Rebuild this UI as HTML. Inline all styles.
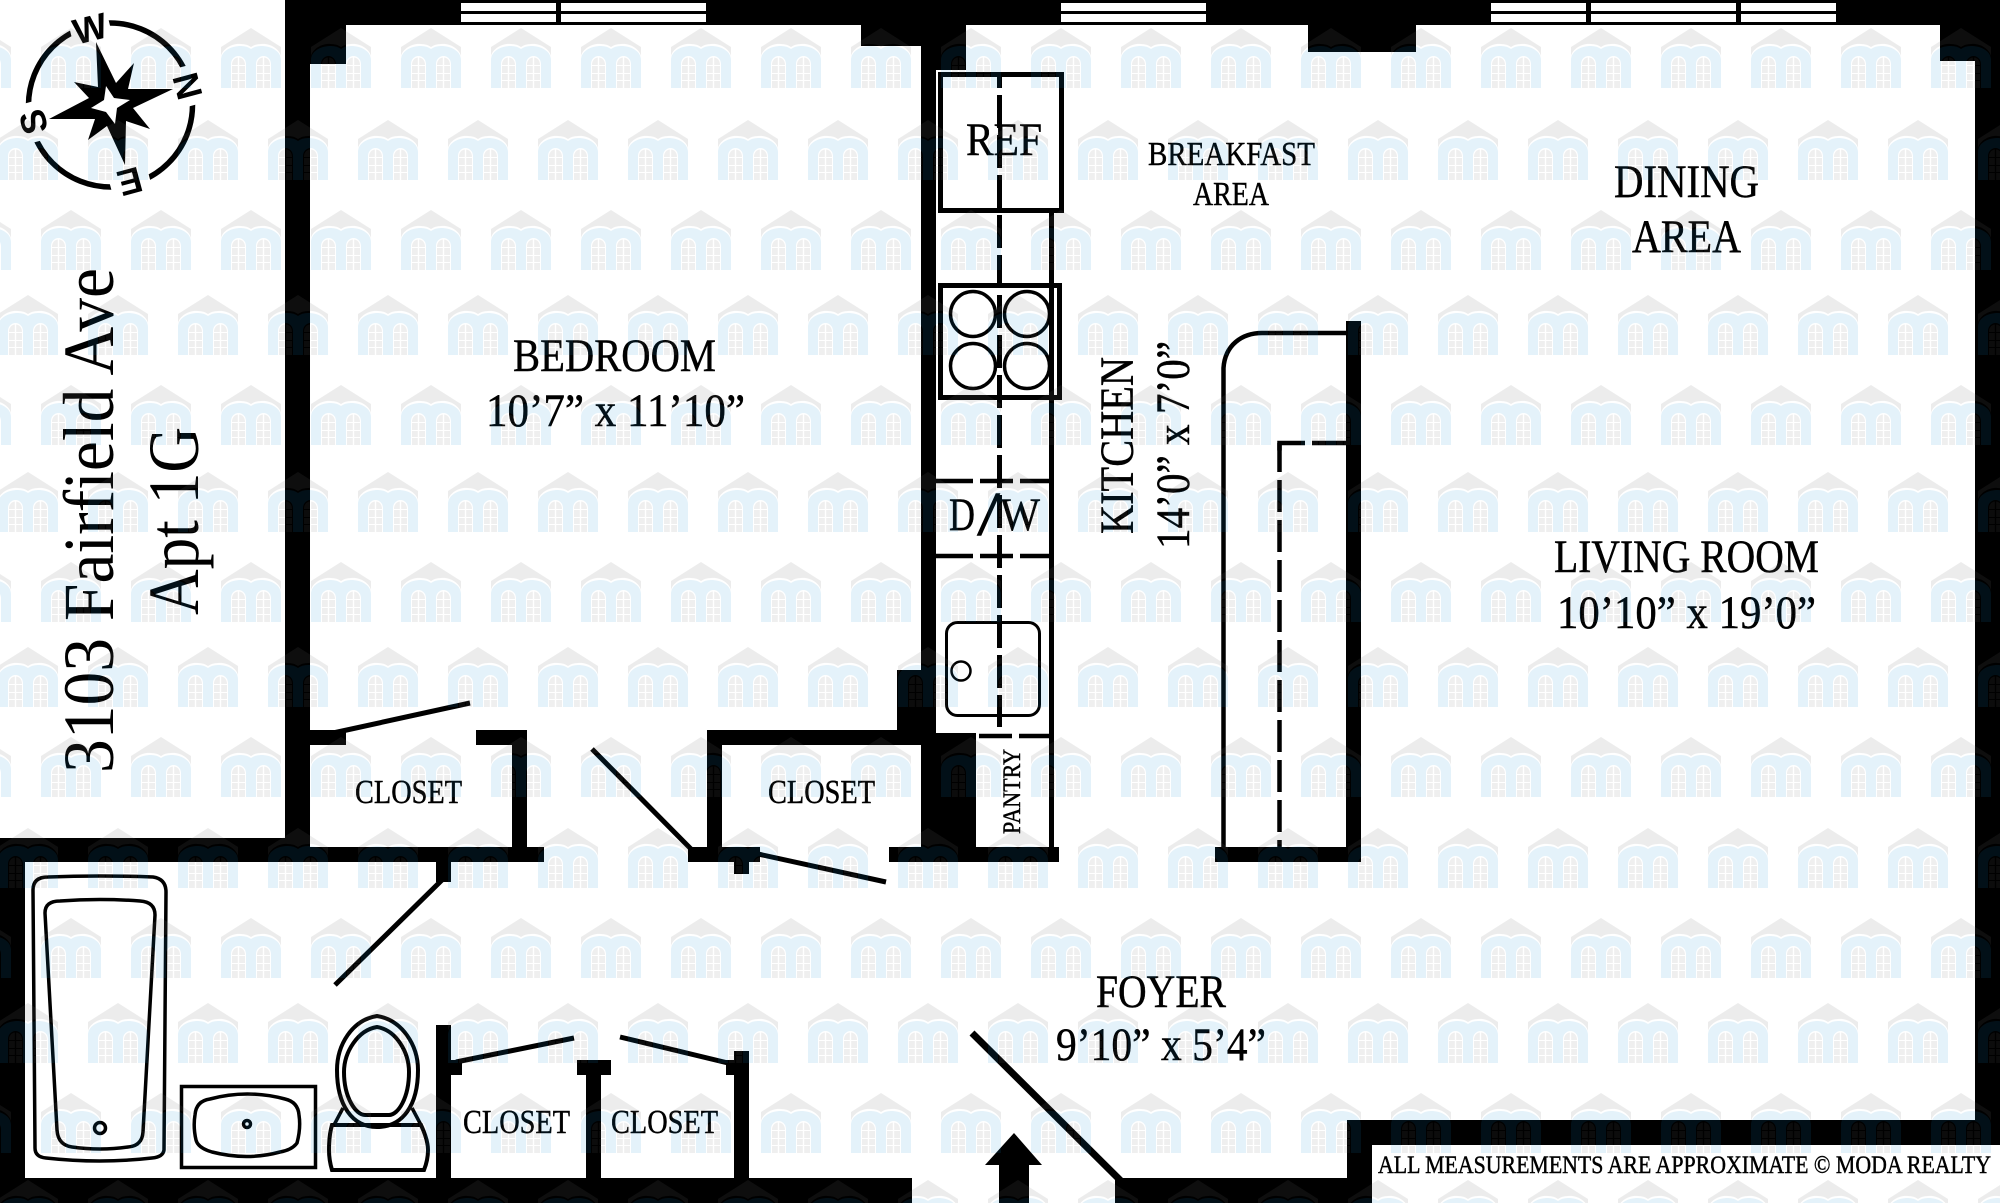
<!DOCTYPE html>
<html>
<head>
<meta charset="utf-8">
<title>3103 Fairfield Ave Apt 1G</title>
<style>
html,body{margin:0;padding:0;background:#fff;width:2000px;height:1203px;overflow:hidden}
svg{display:block}
text{font-family:"Liberation Serif",serif;fill:#000}
.h text{stroke:#000;stroke-width:.45px}
</style>
</head>
<body>
<svg width="2000" height="1203" viewBox="0 0 2000 1203" xmlns="http://www.w3.org/2000/svg">
<defs>
<pattern id="w" x="41" y="0" width="90" height="60" patternUnits="userSpaceOnUse">
  <path fill="rgba(107,107,107,.13)" d="M0 19L30 0L60 19V28C58 20 48 15 40 16Q34 16 30 19Q26 16 20 16C12 15 2 20 0 28Z"/>
  <path fill="rgba(18,140,210,.114)" fill-rule="evenodd" d="M0 60V32C0 23 10 18 20 18Q26 18 30 21Q34 18 40 18C50 18 60 23 60 32V60ZM10 60H25V36C25 31 21 28 17.500 28C14 28 10 31 10 36ZM35 60H50V36C50 31 46 28 42.500 28C39 28 35 31 35 36Z"/>
  <path fill="rgba(107,107,107,.11)" d="M11 37C11 33 13 30 16.800 29.500V37ZM18.200 29.500C22 30 24 33 24 37H18.200ZM11 38H16.800V45H11ZM18.200 38H24V45H18.200ZM11 46H16.800V52H11ZM18.200 46H24V52H18.200ZM11 53H16.800V60H11ZM18.200 53H24V60H18.200ZM36 37C36 33 38 30 41.800 29.500V37ZM43.200 29.500C47 30 49 33 49 37H43.200ZM36 38H41.800V45H36ZM43.200 38H49V45H43.200ZM36 46H41.800V52H36ZM43.200 46H49V52H43.200ZM36 53H41.800V60H36ZM43.200 53H49V60H43.200Z"/>
</pattern>
</defs>

<rect width="2000" height="1203" fill="#fff"/>

<!-- walls -->
<g fill="#000">
  <rect x="285" y="0" width="1715" height="25"/>
  <rect x="285" y="25" width="61" height="39"/>
  <rect x="861" y="25" width="60" height="21"/>
  <rect x="921" y="25" width="45" height="45"/>
  <rect x="1308" y="25" width="108" height="27"/>
  <rect x="1940" y="25" width="60" height="36"/>
  <rect x="1975" y="25" width="25" height="1120"/>
  <rect x="285" y="25" width="25" height="837"/>
  <rect x="310" y="730" width="36" height="15"/>
  <rect x="476" y="730" width="51" height="15"/>
  <rect x="512" y="730" width="15" height="120"/>
  <rect x="0" y="838" width="310" height="24"/>
  <rect x="285" y="847" width="259" height="15"/>
  <rect x="436" y="862" width="15" height="20"/>
  <rect x="0" y="838" width="25" height="365"/>
  <rect x="0" y="1178" width="912" height="25"/>
  <rect x="436" y="1025" width="15" height="153"/>
  <rect x="451" y="1060" width="11" height="15"/>
  <rect x="577" y="1060" width="34" height="15"/>
  <rect x="586" y="1075" width="15" height="103"/>
  <rect x="734" y="1051" width="15" height="127"/>
  <rect x="726" y="1060" width="8" height="15"/>
  <rect x="688" y="847" width="72" height="15"/>
  <rect x="734" y="862" width="15" height="12"/>
  <rect x="707" y="730" width="15" height="120"/>
  <rect x="707" y="730" width="190" height="15"/>
  <rect x="897" y="670" width="39" height="75"/>
  <rect x="921" y="25" width="15" height="837"/>
  <rect x="921" y="733" width="55" height="114"/>
  <rect x="889" y="847" width="170" height="15"/>
  <rect x="1049" y="212" width="5" height="635"/>
  <rect x="1346" y="321" width="15" height="541"/>
  <rect x="1215" y="847" width="146" height="15"/>
  <rect x="1347" y="1120" width="653" height="25"/>
  <rect x="1347" y="1120" width="25" height="83"/>
  <rect x="1115" y="1178" width="257" height="25"/>
</g>

<!-- windows -->
<g fill="#fff">
  <rect x="461" y="3" width="95" height="8"/><rect x="461" y="14" width="95" height="8"/>
  <rect x="561" y="3" width="145" height="8"/><rect x="561" y="14" width="145" height="8"/>
  <rect x="1061" y="3" width="145" height="8"/><rect x="1061" y="14" width="145" height="8"/>
  <rect x="1491" y="3" width="95" height="8"/><rect x="1491" y="14" width="95" height="8"/>
  <rect x="1591" y="3" width="145" height="8"/><rect x="1591" y="14" width="145" height="8"/>
  <rect x="1741" y="3" width="95" height="8"/><rect x="1741" y="14" width="95" height="8"/>
</g>

<!-- doors -->
<g stroke="#000" fill="none">
  <line x1="333" y1="733" x2="470" y2="703" stroke-width="5"/>
  <line x1="592" y1="749" x2="691" y2="849" stroke-width="5"/>
  <line x1="758" y1="854" x2="886" y2="882" stroke-width="5"/>
  <line x1="335" y1="985" x2="442" y2="880" stroke-width="5"/>
  <line x1="456" y1="1062" x2="574" y2="1038" stroke-width="5"/>
  <line x1="620" y1="1037" x2="728" y2="1063" stroke-width="5"/>
  <line x1="972" y1="1033" x2="1122" y2="1182" stroke-width="7"/>
</g>

<!-- entry arrow -->
<path d="M1014 1133L1042 1165H1029V1203H999V1165H985Z" fill="#000"/>

<!-- kitchen -->
<g fill="none" stroke="#000">
  <rect x="940.500" y="74.500" width="121" height="136" stroke-width="5"/>
  <rect x="940.500" y="285.500" width="119" height="112" stroke-width="5"/>
  <g stroke-width="3.500">
    <circle cx="973" cy="314" r="22.500"/><circle cx="1027" cy="314" r="22.500"/>
    <circle cx="973" cy="366" r="22.500"/><circle cx="1027" cy="366" r="22.500"/>
  </g>
  <line x1="999.500" y1="72" x2="999.500" y2="88" stroke-width="5"/>
  <line x1="999.500" y1="95" x2="999.500" y2="727" stroke-width="5" stroke-dasharray="33 7"/>
  <line x1="936" y1="481" x2="1049" y2="481" stroke-width="4.500" stroke-dasharray="37 7 33 7"/>
  <line x1="936" y1="556" x2="1049" y2="556" stroke-width="4.500" stroke-dasharray="37 7 33 7"/>
  <line x1="979" y1="736" x2="1049" y2="736" stroke-width="4.500" stroke-dasharray="33 7"/>
  <rect x="946.500" y="622.500" width="93" height="93" rx="11" stroke-width="3"/>
  <circle cx="961" cy="671" r="9.500" stroke-width="2.500"/>
  <path d="M1223.500 847V368C1225 345 1242 333 1262 333H1346" stroke-width="4.500"/>
  <path d="M1346 443H1279.500V472" stroke-width="4.500" stroke-dasharray="34 7 33 200"/>
  <line x1="1279.500" y1="443" x2="1279.500" y2="472" stroke-width="4.500"/>
  <line x1="1279.500" y1="480" x2="1279.500" y2="847" stroke-width="4.500" stroke-dasharray="32 8"/>
</g>

<!-- bath fixtures -->
<g fill="none" stroke="#000" stroke-width="3.500">
  <path d="M33 890Q33 877 48 877Q100 875 153 877Q166 879 166 892L164 1150Q163 1157 152 1158Q100 1164 46 1158Q35 1157 35 1148Z"/>
  <path d="M45 913Q45 901 60 901Q100 898 140 901Q155 902 155 915L143 1132Q142 1146 128 1147Q100 1151 72 1147Q58 1145 57 1130Z"/>
  <circle cx="100" cy="1128" r="5.500"/>
  <rect x="181.500" y="1086.500" width="134" height="81"/>
  <path d="M195 1115Q196 1101 210 1099Q247 1089 285 1099Q298 1102 299 1115Q301 1128 297 1143Q292 1150 280 1152Q247 1161 212 1152Q198 1148 196 1140Q193 1127 195 1115Z"/>
  <circle cx="247" cy="1124" r="3.500"/>
  <path d="M377 1016C352 1020 337 1045 337 1070C337 1105 352 1127 377 1127C403 1127 418 1105 418 1070C418 1045 402 1020 377 1016Z" stroke-width="4"/>
  <path d="M377 1027C358 1030 344 1052 344 1072C344 1098 356 1115 365 1115H389C398 1115 409 1098 409 1072C409 1052 396 1030 377 1027Z" stroke-width="4"/>
  <path d="M332 1125H421Q428 1140 428 1150Q428 1160 424 1170H332Q329 1160 329 1150Q329 1135 332 1125Z" stroke-width="4"/>
  <path d="M334 1125L343 1108M421 1125L412 1108"/>
</g>

<!-- compass -->
<g>
  <circle cx="110.500" cy="105" r="82" fill="none" stroke="#000" stroke-width="5.500"/>
  <g fill="#fff">
    <rect x="70" y="10" width="40" height="36" transform="rotate(-14 90 28)"/>
    <rect x="168" y="68" width="40" height="36" transform="rotate(75 188 86)"/>
    <rect x="110" y="164" width="40" height="36" transform="rotate(165 130 182)"/>
    <rect x="13" y="104" width="40" height="36" transform="rotate(-105 33 122)"/>
  </g>
  <path fill="#000" d="M96 42L116 83L134 63L128 89L173 89L133 108L150 129L126 121L125 165L107 126L88 140L95 119L49 119L89 98L74 82L98 87Z"/>
  <path fill="#fff" d="M106 86L114 98L130 100L117 108L115 124L106 112L91 108L104 100Z"/>
  <g font-weight="bold" font-size="36" text-anchor="middle">
    <text x="90" y="41" transform="rotate(-14 90 28)" style="font-family:'Liberation Sans',sans-serif">W</text>
    <text x="188" y="99" transform="rotate(75 188 86)" style="font-family:'Liberation Sans',sans-serif">N</text>
    <text x="130" y="195" transform="rotate(165 130 182)" style="font-family:'Liberation Sans',sans-serif">E</text>
    <text x="33" y="135" transform="rotate(-105 33 122)" style="font-family:'Liberation Sans',sans-serif">S</text>
  </g>
</g>

<!-- labels -->
<g class="h">
  <text x="513" y="371" font-size="47" textLength="203" lengthAdjust="spacingAndGlyphs">BEDROOM</text>
  <text x="486" y="426" font-size="47" textLength="259" lengthAdjust="spacingAndGlyphs">10’7” x 11’10”</text>
  <text x="966" y="155" font-size="47" textLength="76" lengthAdjust="spacingAndGlyphs">REF</text>
  <text x="1148" y="165" font-size="34" textLength="167" lengthAdjust="spacingAndGlyphs">BREAKFAST</text>
  <text x="1193" y="205" font-size="34" textLength="76" lengthAdjust="spacingAndGlyphs">AREA</text>
  <text x="1614" y="197" font-size="47" textLength="145" lengthAdjust="spacingAndGlyphs">DINING</text>
  <text x="1632" y="252" font-size="47" textLength="109" lengthAdjust="spacingAndGlyphs">AREA</text>
  <text x="1554" y="572" font-size="47" textLength="265" lengthAdjust="spacingAndGlyphs">LIVING ROOM</text>
  <text x="1557" y="628" font-size="47" textLength="259" lengthAdjust="spacingAndGlyphs">10’10” x 19’0”</text>
  <text x="1096" y="1007" font-size="47" textLength="130" lengthAdjust="spacingAndGlyphs">FOYER</text>
  <text x="1056" y="1060" font-size="47" textLength="210" lengthAdjust="spacingAndGlyphs">9’10” x 5’4”</text>
  <text x="949" y="530" font-size="47" textLength="26" lengthAdjust="spacingAndGlyphs">D</text>
  <text x="977" y="535" font-size="62" textLength="23" lengthAdjust="spacingAndGlyphs">/</text>
  <text x="1000" y="530" font-size="47" textLength="40" lengthAdjust="spacingAndGlyphs">W</text>
  <text x="355" y="803" font-size="34" textLength="107" lengthAdjust="spacingAndGlyphs">CLOSET</text>
  <text x="768" y="803" font-size="34" textLength="107" lengthAdjust="spacingAndGlyphs">CLOSET</text>
  <text x="463" y="1133" font-size="34" textLength="107" lengthAdjust="spacingAndGlyphs">CLOSET</text>
  <text x="611" y="1133" font-size="34" textLength="107" lengthAdjust="spacingAndGlyphs">CLOSET</text>
  <text x="1378" y="1173" font-size="25" textLength="613" lengthAdjust="spacingAndGlyphs">ALL MEASUREMENTS ARE APPROXIMATE © MODA REALTY</text>
  <text transform="translate(1133 534) rotate(-90)" font-size="48" textLength="177" lengthAdjust="spacingAndGlyphs">KITCHEN</text>
  <text transform="translate(1189 549) rotate(-90)" font-size="48" textLength="208" lengthAdjust="spacingAndGlyphs">14’0” x 7’0”</text>
  <text transform="translate(1020 834) rotate(-90)" font-size="25" textLength="85" lengthAdjust="spacingAndGlyphs">PANTRY</text>
</g>
<text transform="translate(113 773) rotate(-90)" font-size="72" textLength="505" lengthAdjust="spacingAndGlyphs">3103 Fairfield Ave</text>
<text transform="translate(198 615) rotate(-90)" font-size="72" textLength="188" lengthAdjust="spacingAndGlyphs">Apt 1G</text>

<!-- watermark rows -->
<g fill="url(#w)">
  <rect transform="translate(0 28)" width="2000" height="60"/>
  <rect transform="translate(47 120)" x="-47" width="2000" height="60"/>
  <rect transform="translate(0 210)" width="2000" height="60"/>
  <rect transform="translate(47 295)" x="-47" width="2000" height="60"/>
  <rect transform="translate(0 385)" width="2000" height="60"/>
  <rect transform="translate(47 472)" x="-47" width="2000" height="60"/>
  <rect transform="translate(0 562)" width="2000" height="60"/>
  <rect transform="translate(47 647)" x="-47" width="2000" height="60"/>
  <rect transform="translate(0 737)" width="2000" height="60"/>
  <rect transform="translate(47 828)" x="-47" width="2000" height="60"/>
  <rect transform="translate(0 918)" width="2000" height="60"/>
  <rect transform="translate(47 1003)" x="-47" width="2000" height="60"/>
  <rect transform="translate(0 1093)" width="2000" height="60"/>
  <rect transform="translate(47 1180)" x="-47" width="2000" height="23"/>
</g>
</svg>
</body>
</html>
